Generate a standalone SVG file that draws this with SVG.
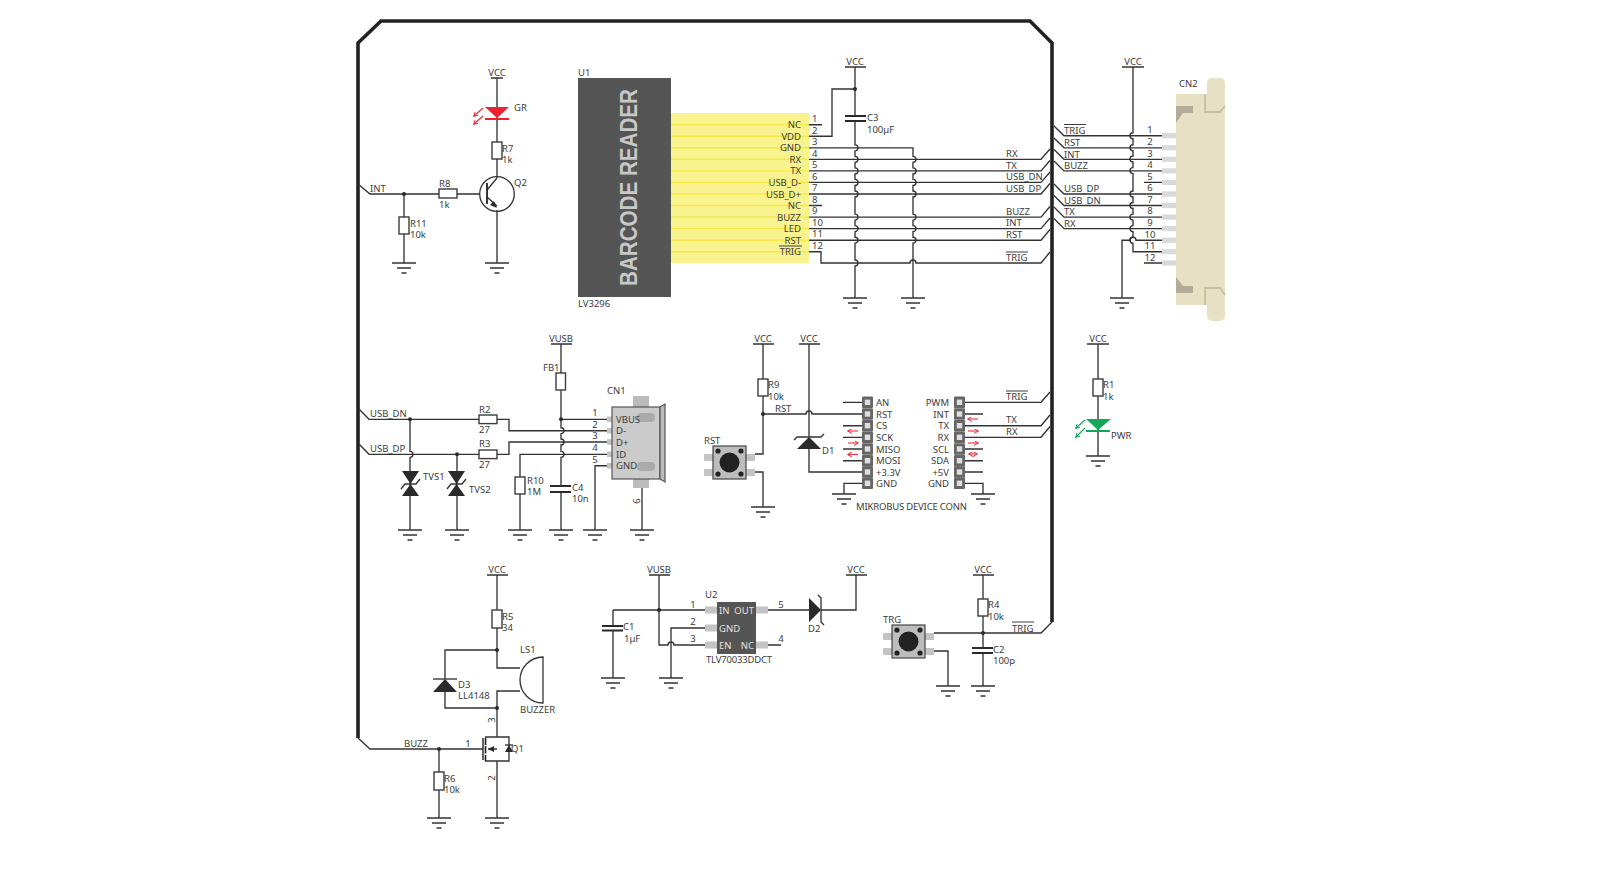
<svg xmlns="http://www.w3.org/2000/svg" width="1599" height="871" viewBox="0 0 1599 871">
<style>
text{font-family:"Noto Sans","Liberation Sans",sans-serif;font-size:9.5px;fill:#3c3c3c}
.w{fill:none;stroke:#333;stroke-width:1.35}
.p{fill:#fff;stroke:#3c3c3c;stroke-width:1.4}
.pl{stroke:#2a2a2a;stroke-width:2}
.dot{fill:#2a2a2a}
.k{fill:#2a2a2a;stroke:none}
.m{text-anchor:middle}
.e{text-anchor:end}
.ol{stroke:#3c3c3c;stroke-width:1}
.pad{fill:#c4c4c4}
.ra{fill:none;stroke:#ee2a35;stroke-width:1.1}
.ga{fill:none;stroke:#14a85c;stroke-width:1.1}
.hd{fill:#666}
.hi{fill:#dedede}
.fp{fill:#d9d9d9}
.lt{fill:#e2e2e2}
</style>
<defs>
<g id="gnd"><path class="w" d="M-12,0H12M-7,5H7M-2.5,10H2.5" stroke-width="1.5"/></g>
<g id="btn">
<rect class="pad" x="-9" y="8" width="9" height="7"/><rect class="pad" x="33" y="8" width="9" height="7"/><rect class="pad" x="-9" y="23" width="9" height="7"/><rect class="pad" x="33" y="23" width="9" height="7"/>
<rect x="0" y="0" width="33" height="33" fill="#bdbdbd" stroke="#444" stroke-width="1.2"/>
<circle cx="16.5" cy="16.5" r="10" fill="#222"/>
<circle cx="5" cy="5" r="2.6" fill="#222"/><circle cx="28" cy="5" r="2.6" fill="#222"/><circle cx="5" cy="28" r="2.6" fill="#222"/><circle cx="28" cy="28" r="2.6" fill="#222"/>
</g>
<g id="hp"><rect class="hd" x="-5.5" y="-5.8" width="11" height="11.6" rx="1"/><rect class="hi" x="-2.7" y="-2.7" width="5.4" height="5.4"/></g>
<marker id="ah" markerWidth="5" markerHeight="5" refX="4" refY="2.5" orient="auto-start-reverse" markerUnits="userSpaceOnUse"><path d="M0,0L4.5,2.5L0,5" fill="none" stroke="#ee2a35" stroke-width="1"/></marker>
<marker id="ag" markerWidth="5" markerHeight="5" refX="4" refY="2.5" orient="auto" markerUnits="userSpaceOnUse"><path d="M0,0L4.5,2.5L0,5" fill="none" stroke="#14a85c" stroke-width="1"/></marker>
<g id="fpin"><rect class="fp" x="0" y="-2.6" width="14" height="5.2"/></g>
</defs>

<g id="frame"><path d="M358,738V43L381,21H1030L1052,43V622" fill="none" stroke="#222" stroke-width="3.6"/></g>

<g id="connectors" class="w">
<path d="M497,78V142M497,159V178M487,190L497,178M487,197L497,206M497,210V263"/>
<path d="M358,184L370,194H439M457,194H480M404,194V217M404,234V263"/>
<path d="M809,124.7H822M809,205.5H822"/>
<path d="M809,136.2H832V89H855"/>
<path d="M855,67V116M855,122V144.8a3,3 0 0 1 0,6v5.5a3,3 0 0 1 0,6v5.6a3,3 0 0 1 0,6v5.5a3,3 0 0 1 0,6v5.6a3,3 0 0 1 0,6v17.1a3,3 0 0 1 0,6v5.5a3,3 0 0 1 0,6v5.6a3,3 0 0 1 0,6v16.8a3,3 0 0 1 0,6V298"/>
<path d="M809,147.8H913V156.3a3,3 0 0 1 0,6v5.6a3,3 0 0 1 0,6v5.5a3,3 0 0 1 0,6v5.6a3,3 0 0 1 0,6v17.1a3,3 0 0 1 0,6v5.5a3,3 0 0 1 0,6v5.6a3,3 0 0 1 0,6V298"/>
<path d="M809,159.3H1041L1050,149M809,170.9H1041L1050,160.5M809,182.4H1041L1050,172M809,194H1041L1050,183.5M809,217.1H1041L1050,206.5M809,228.6H1041L1050,218M809,240.2H1041L1050,229.5"/>
<path d="M809,251.7H821V263H910a3,3 0 0 1 6,0H1041L1050,252"/>
<path d="M1054,126L1064,135.7H1162M1054,138L1064,147.8H1162M1054,149.5L1064,159.3H1162M1054,161L1064,170.9H1162M1054,184L1064,194H1162M1054,195.5L1064,205.5H1162M1054,207L1064,217.1H1162M1054,218.5L1064,228.6H1162"/>
<path d="M1133,67V132.7a3,3 0 0 0 0,6v6a3,3 0 0 0 0,6v5.3a3,3 0 0 0 0,6v5.6a3,3 0 0 0 0,6V191a3,3 0 0 0 0,6v5.5a3,3 0 0 0 0,6v5.6a3,3 0 0 0 0,6v5.5a3,3 0 0 0 0,6v5.6a3,3 0 0 0 0,6V251.7H1162"/>
<path d="M1144,182.4H1162M1144,263H1162M1162,240.2H1136a3,3 0 0 0 -6,0H1122V298"/>
<path d="M561,344V373M561,390V427.7a3,3 0 0 1 0,6v5.3a3,3 0 0 1 0,6v6.3a3,3 0 0 1 0,6V486M561,492V530"/>
<path d="M359,409L369,419.3H479M497,419.3H509V430.7H607M561,419.3H607"/>
<path d="M359,444L369,454.3H479M497,454.3H509V442H607"/>
<path d="M410,419.3V451.3a3,3 0 0 1 0,6V530M457,454.3V530"/>
<path d="M607,454.3H520V477M520,494V530M607,465.7H595V530M642,488V530"/>
<path d="M763,344V379M763,396V454H755M755,472H763V507"/>
<path d="M763,414H806a3,3 0 0 1 6,0H862"/>
<path d="M809,344V437M809,449V472H862"/>
<path d="M843,402.3H862M843,425.7H862M843,437.3H862M843,449H862M843,460.7H862"/>
<path d="M862,483.3H844V494M965,483.3H983V494"/>
<path d="M965,402.3H1041L1050,392M965,425.7H1041L1050,415M965,437.3H1041L1050,426.5"/>
<path d="M965,414H983M965,449H983M965,460.7H983M965,472H983"/>
<path d="M1098,344V379M1098,396V456"/>
<path d="M497,575V610M497,628V668H520M520,691H497V737M497,650H445V679M445,692V708H497"/>
<path d="M358,738L370,749H483M439,749V772M439,790V818"/>
<path d="M485,737H509V761H485M497,761V818M497,749H488"/>
<path d="M659,575V645H668a3,3 0 0 1 6,0H705M613,610H705M613,610V626M613,630V678M705,628H671V678"/>
<path d="M768,610H809M821,610H856V575M768,645H781"/>
<path d="M983,575V599M983,616V648M983,653V686M934,633H1041L1052,622M934,651H948V686"/>
</g>

<g id="grounds">
<use href="#gnd" x="404" y="263"/><use href="#gnd" x="497" y="263"/><use href="#gnd" x="855" y="298"/><use href="#gnd" x="913" y="298"/><use href="#gnd" x="1122" y="298"/>
<use href="#gnd" x="410" y="530"/><use href="#gnd" x="457" y="530"/><use href="#gnd" x="520" y="530"/><use href="#gnd" x="561" y="530"/><use href="#gnd" x="595" y="530"/><use href="#gnd" x="642" y="530"/>
<use href="#gnd" x="763" y="507"/><use href="#gnd" x="844" y="494"/><use href="#gnd" x="983" y="494"/><use href="#gnd" x="1098" y="456"/>
<use href="#gnd" x="439" y="818"/><use href="#gnd" x="497" y="818"/><use href="#gnd" x="613" y="678"/><use href="#gnd" x="671" y="678"/><use href="#gnd" x="948" y="686"/><use href="#gnd" x="983" y="686"/>
</g>

<g id="power-labels">
<path class="w" d="M491,78H503M845,67H866M1122,67H1144M551,344H572M753,344H774M799,344H820M1087,344H1109M487,575H508M649,575H670M846,575H867M973,575H994"/>
<text class="m" x="497" y="76">VCC</text><text class="m" x="855" y="65">VCC</text><text class="m" x="1133" y="65">VCC</text><text class="m" x="561" y="342">VUSB</text><text class="m" x="763" y="342">VCC</text><text class="m" x="809" y="342">VCC</text><text class="m" x="1098" y="342">VCC</text><text class="m" x="497" y="573">VCC</text><text class="m" x="659" y="573">VUSB</text><text class="m" x="856" y="573">VCC</text><text class="m" x="983" y="573">VCC</text>
</g>

<g id="GR">
<path d="M485,107H509L497,118Z" fill="#ee2130"/><path d="M485,119H509" stroke="#ee2130" stroke-width="2"/>
<path class="ra" d="M483,108L474,116" marker-end="url(#ah)"/><path class="ra" d="M483,116L474,124" marker-end="url(#ah)"/>
<text x="514" y="111">GR</text>
</g>
<g id="R7"><rect class="p" x="492" y="142" width="10" height="17"/><text x="502" y="152">R7</text><text x="502" y="163">1k</text></g>
<g id="R8"><rect class="p" x="439" y="189" width="18" height="9"/><text x="439" y="187">R8</text><text x="439" y="208">1k</text></g>
<g id="R11"><rect class="p" x="399" y="217" width="10" height="17"/><text x="410" y="227">R11</text><text x="410" y="238">10k</text></g>
<circle class="dot" cx="404" cy="194" r="2"/>
<g id="Q2">
<circle cx="497" cy="194" r="17.3" fill="none" stroke="#333" stroke-width="1.3"/>
<path d="M487,183V204" stroke="#222" stroke-width="1.8"/>
<path d="M497,208L490,205L494,201Z" class="k"/>
<text x="514" y="186">Q2</text>
</g>

<g id="U1">
<rect x="578" y="78" width="93" height="219" fill="#555"/>
<rect x="671" y="113" width="138" height="150" fill="#f8f28f"/>
<path d="M671,124.7H809M671,136.2H809M671,147.8H809M671,159.3H809M671,170.9H809M671,182.4H809M671,194H809M671,205.5H809M671,217.1H809M671,228.6H809M671,240.2H809M671,251.7H809" stroke="#f5e94a" stroke-width="1.4"/>
<text transform="translate(637,286) rotate(-90)" style="font-family:'Liberation Sans',sans-serif;font-weight:700;font-size:24px;fill:#c8c8c8" textLength="197" lengthAdjust="spacingAndGlyphs">BARCODE READER</text>
<text x="578" y="76">U1</text><text x="578" y="307">LV3296</text>
<text class="e" x="801" y="128.2">NC</text><text class="e" x="801" y="139.7">VDD</text><text class="e" x="801" y="151.3">GND</text><text class="e" x="801" y="162.8">RX</text><text class="e" x="801" y="174.4">TX</text><text class="e" x="801" y="185.9">USB_D-</text><text class="e" x="801" y="197.5">USB_D+</text><text class="e" x="801" y="209">NC</text><text class="e" x="801" y="220.6">BUZZ</text><text class="e" x="801" y="232.1">LED</text><text class="e" x="801" y="243.7">RST</text><text class="e" x="801" y="255.2">TRIG</text>
<path class="ol" d="M779,246H802"/>
<text x="812" y="122">1</text><text x="812" y="133.5">2</text><text x="812" y="145">3</text><text x="812" y="156.5">4</text><text x="812" y="168">5</text><text x="812" y="179.5">6</text><text x="812" y="191">7</text><text x="812" y="202.5">8</text><text x="812" y="214.2">9</text><text x="812" y="225.8">10</text><text x="812" y="237.4">11</text><text x="812" y="248.9">12</text>
</g>
<g id="C3"><path class="pl" d="M845,116H866M845,121H866"/><circle class="dot" cx="855" cy="89" r="2"/><text x="867" y="121">C3</text><text x="867" y="133">100µF</text></g>

<g id="net-labels-top">
<text x="1006" y="157">RX</text><text x="1006" y="168.5">TX</text><text x="1006" y="180">USB_DN</text><text x="1006" y="191.5">USB_DP</text><text x="1006" y="214.5">BUZZ</text><text x="1006" y="226">INT</text><text x="1006" y="237.5">RST</text><text x="1006" y="261">TRIG</text><path class="ol" d="M1006,252H1028"/>
<text x="1064" y="134">TRIG</text><path class="ol" d="M1064,124.5H1086"/><text x="1064" y="146">RST</text><text x="1064" y="157.5">INT</text><text x="1064" y="169">BUZZ</text><text x="1064" y="192">USB_DP</text><text x="1064" y="203.5">USB_DN</text><text x="1064" y="215">TX</text><text x="1064" y="226.5">RX</text>
</g>

<g id="CN2">
<rect x="1207" y="78" width="18" height="243" rx="5" fill="#e8e0c4"/>
<rect x="1176" y="94" width="49" height="211" fill="#e8e0c4"/>
<path d="M1176,106H1193V113H1183L1176,123ZM1176,277L1183,286H1193V293H1176Z" fill="#b3ac98"/>
<path d="M1205,94V112H1220L1225,106M1205,305V288H1220L1225,295" fill="none" stroke="#c8bf9f" stroke-width="1.8"/>
<use href="#fpin" x="1162" y="135.7"/><use href="#fpin" x="1162" y="147.8"/><use href="#fpin" x="1162" y="159.3"/><use href="#fpin" x="1162" y="170.9"/><use href="#fpin" x="1162" y="182.4"/><use href="#fpin" x="1162" y="194"/><use href="#fpin" x="1162" y="205.5"/><use href="#fpin" x="1162" y="217.1"/><use href="#fpin" x="1162" y="228.6"/><use href="#fpin" x="1162" y="240.2"/><use href="#fpin" x="1162" y="251.7"/><use href="#fpin" x="1162" y="263"/>
<text x="1179" y="87">CN2</text>
<text class="m" x="1150" y="133">1</text><text class="m" x="1150" y="145">2</text><text class="m" x="1150" y="156.5">3</text><text class="m" x="1150" y="168">4</text><text class="m" x="1150" y="179.5">5</text><text class="m" x="1150" y="191">6</text><text class="m" x="1150" y="202.5">7</text><text class="m" x="1150" y="214">8</text><text class="m" x="1150" y="226">9</text><text class="m" x="1150" y="237.5">10</text><text class="m" x="1150" y="249">11</text><text class="m" x="1150" y="260.5">12</text>
</g>

<g id="usb-labels"><text x="370" y="417">USB_DN</text><text x="370" y="452">USB_DP</text><circle class="dot" cx="410" cy="419.3" r="2"/><circle class="dot" cx="457" cy="454.3" r="2"/><circle class="dot" cx="561" cy="419.3" r="2"/></g>
<g id="R2"><rect class="p" x="479" y="415" width="18" height="8.6"/><text x="479" y="413">R2</text><text x="479" y="433">27</text></g>
<g id="R3"><rect class="p" x="479" y="450" width="18" height="8.6"/><text x="479" y="447">R3</text><text x="479" y="468">27</text></g>
<g id="FB1"><rect class="p" x="556" y="373" width="9.5" height="17"/><text x="543" y="371">FB1</text></g>
<g id="TVS1"><path class="k" d="M402,471H419L410.5,484ZM402,496H419L410.5,484Z"/><path class="w" d="M401,489L405,484H416L420,479"/><text x="423" y="480">TVS1</text></g>
<g id="TVS2"><path class="k" d="M448,471H465L456.5,484ZM448,496H465L456.5,484Z"/><path class="w" d="M447,489L451,484H462L466,479"/><text x="469" y="493">TVS2</text></g>
<g id="R10"><rect class="p" x="515" y="477" width="10" height="17"/><text x="527" y="484">R10</text><text x="527" y="495">1M</text></g>
<g id="C4"><path class="pl" d="M550,486H571M550,492H571"/><text x="572" y="491">C4</text><text x="572" y="502">10n</text></g>
<g id="CN1">
<rect x="633" y="396" width="16" height="92" fill="#bbb"/>
<rect class="pad" x="607" y="416.5" width="6" height="5.6"/><rect class="pad" x="607" y="428" width="6" height="5.6"/><rect class="pad" x="607" y="439.2" width="6" height="5.6"/><rect class="pad" x="607" y="451.5" width="6" height="5.6"/><rect class="pad" x="607" y="463" width="6" height="5.6"/>
<rect x="612" y="407" width="48" height="72" fill="#cbcbcb" stroke="#555" stroke-width="1.2"/>
<path d="M660,407L665,404V482L660,479Z" fill="#bbb" stroke="#555" stroke-width="1.2"/>
<rect x="637" y="413" width="18" height="9" rx="4" fill="#aaa"/><rect x="637" y="462" width="18" height="9" rx="4" fill="#aaa"/>
<text x="607" y="394">CN1</text>
<text x="616" y="423">VBUS</text><text x="616" y="434.2">D-</text><text x="616" y="445.5">D+</text><text x="616" y="457.8">ID</text><text x="616" y="469.2">GND</text>
<text class="m" x="595" y="416">1</text><text class="m" x="595" y="428">2</text><text class="m" x="595" y="439.3">3</text><text class="m" x="595" y="451.3">4</text><text class="m" x="595" y="463">5</text>
<text class="m" transform="translate(640,501) rotate(-90)">6</text>
</g>

<g id="R9"><circle class="dot" cx="763" cy="414" r="2"/><rect class="p" x="758" y="379" width="10" height="17"/><text x="768" y="388">R9</text><text x="768" y="400">10k</text><text x="775" y="412">RST</text></g>
<g id="RST-button"><use href="#btn" x="713" y="446"/><text x="704" y="444">RST</text></g>
<g id="D1"><path class="k" d="M797,449H821L809,437Z"/><path class="w" d="M794,440L797,437H821L824,434"/><text x="822" y="454">D1</text></g>
<g id="header-left">
<use href="#hp" x="867.5" y="402.3"/><use href="#hp" x="867.5" y="414"/><use href="#hp" x="867.5" y="425.7"/><use href="#hp" x="867.5" y="437.3"/><use href="#hp" x="867.5" y="449"/><use href="#hp" x="867.5" y="460.7"/><use href="#hp" x="867.5" y="472"/><use href="#hp" x="867.5" y="483.3"/>
<text x="876" y="405.8">AN</text><text x="876" y="417.5">RST</text><text x="876" y="429.2">CS</text><text x="876" y="440.8">SCK</text><text x="876" y="452.8">MISO</text><text x="876" y="464.2">MOSI</text><text x="876" y="475.5">+3.3V</text><text x="876" y="486.8">GND</text>
<path class="ra" d="M858,431H848" marker-end="url(#ah)"/><path class="ra" d="M848,443H858" marker-end="url(#ah)"/><path class="ra" d="M858,454.5H848" marker-end="url(#ah)"/>
</g>
<g id="header-right">
<use href="#hp" x="959.5" y="402.3"/><use href="#hp" x="959.5" y="414"/><use href="#hp" x="959.5" y="425.7"/><use href="#hp" x="959.5" y="437.3"/><use href="#hp" x="959.5" y="449"/><use href="#hp" x="959.5" y="460.7"/><use href="#hp" x="959.5" y="472"/><use href="#hp" x="959.5" y="483.3"/>
<text class="e" x="949" y="405.8">PWM</text><text class="e" x="949" y="417.5">INT</text><text class="e" x="949" y="429.2">TX</text><text class="e" x="949" y="440.8">RX</text><text class="e" x="949" y="452.8">SCL</text><text class="e" x="949" y="464.2">SDA</text><text class="e" x="949" y="475.5">+5V</text><text class="e" x="949" y="486.8">GND</text>
<path class="ra" d="M978,419H968" marker-end="url(#ah)"/><path class="ra" d="M968,431H978" marker-end="url(#ah)"/><path class="ra" d="M968,443H978" marker-end="url(#ah)"/><path class="ra" d="M969,454H977" marker-start="url(#ah)" marker-end="url(#ah)"/>
<text x="1006" y="400">TRIG</text><path class="ol" d="M1006,391H1028"/><text x="1006" y="423">TX</text><text x="1006" y="434.5">RX</text>
<text x="856" y="510" textLength="111">MIKROBUS DEVICE CONN</text>
</g>
<g id="R1"><rect class="p" x="1093" y="379" width="10" height="17"/><text x="1103" y="388">R1</text><text x="1103" y="400">1k</text></g>
<g id="PWR">
<path d="M1086,419H1111L1098,430Z" fill="#12a85a"/><path d="M1086,431H1110" stroke="#12a85a" stroke-width="2"/>
<path class="ga" d="M1085,420L1076,428" marker-end="url(#ag)"/><path class="ga" d="M1085,428L1076,437" marker-end="url(#ag)"/>
<text x="1111" y="439">PWR</text>
</g>

<g id="R5"><rect class="p" x="492" y="610" width="10" height="18"/><text x="502" y="620">R5</text><text x="502" y="631">34</text></g>
<g id="LS1"><path d="M543,657V703A23,23 0 0 1 543,657Z" fill="#fff" stroke="#333" stroke-width="1.3"/><text x="520" y="653">LS1</text><text x="520" y="713">BUZZER</text></g>
<g id="D3"><path class="k" d="M433,692H457L445,679Z"/><path class="w" d="M433,679H457"/><text x="458" y="688">D3</text><text x="458" y="699">LL4148</text><circle class="dot" cx="497" cy="650" r="2"/><circle class="dot" cx="497" cy="708" r="2"/></g>
<g id="Q1">
<path d="M483,738V760" stroke="#222" stroke-width="1.4"/><path d="M485.5,737.5V745M485.5,746V753.5M485.5,755V761" stroke="#222" stroke-width="1.6"/>
<path class="k" d="M488,749L494,746V752Z"/><path class="k" d="M509,745L505,752H513Z"/><path class="w" d="M505,745H513"/>
<text x="511" y="752">Q1</text>
<text x="404" y="747">BUZZ</text><text class="m" x="468" y="747">1</text>
<text class="m" transform="translate(495,720) rotate(-90)">3</text><text class="m" transform="translate(495,778) rotate(-90)">2</text>
<circle class="dot" cx="439" cy="749" r="2"/>
</g>
<g id="R6"><rect class="p" x="434" y="772" width="10" height="18"/><text x="444" y="782">R6</text><text x="444" y="793">10k</text></g>

<g id="C1"><path class="pl" d="M602,626H623M602,630.5H623"/><text x="623" y="630">C1</text><text x="624" y="642">1µF</text><circle class="dot" cx="659" cy="610" r="2"/></g>
<g id="U2">
<rect class="pad" x="705" y="606.5" width="12" height="7"/><rect class="pad" x="705" y="624.5" width="12" height="7"/><rect class="pad" x="705" y="641.5" width="12" height="7"/><rect class="pad" x="756" y="606.5" width="12" height="7"/><rect class="pad" x="756" y="641.5" width="12" height="7"/>
<rect x="717" y="602" width="39" height="52" fill="#555"/>
<text class="lt" x="719" y="613.5" style="fill:#e2e2e2">IN</text><text x="719" y="631.5" style="fill:#e2e2e2">GND</text><text x="719" y="648.5" style="fill:#e2e2e2">EN</text><text class="e" x="754" y="613.5" style="fill:#e2e2e2">OUT</text><text class="e" x="754" y="648.5" style="fill:#e2e2e2">NC</text>
<text x="705" y="598">U2</text><text x="706" y="663" textLength="66">TLV70033DDCT</text>
<text class="m" x="693" y="608">1</text><text class="m" x="693" y="625">2</text><text class="m" x="693" y="642">3</text><text class="m" x="781" y="608">5</text><text class="m" x="781" y="642">4</text>
</g>
<g id="D2"><path class="k" d="M809,598V622L821,610Z"/><path class="w" d="M818,595L821,598V622L824,625"/><text x="808" y="632">D2</text></g>

<g id="TRG-button"><use href="#btn" x="892" y="625"/><text x="883" y="623">TRG</text></g>
<g id="R4"><rect class="p" x="978" y="599" width="10" height="17"/><circle class="dot" cx="983" cy="633" r="2"/><text x="988" y="608">R4</text><text x="988" y="620">10k</text><text x="1012" y="632">TRIG</text><path class="ol" d="M1012,622H1034"/></g>
<g id="C2"><path class="pl" d="M972,648H993M972,653H993"/><text x="993" y="653">C2</text><text x="993" y="664">100p</text></g>
<text x="370" y="192">INT</text>
</svg>
